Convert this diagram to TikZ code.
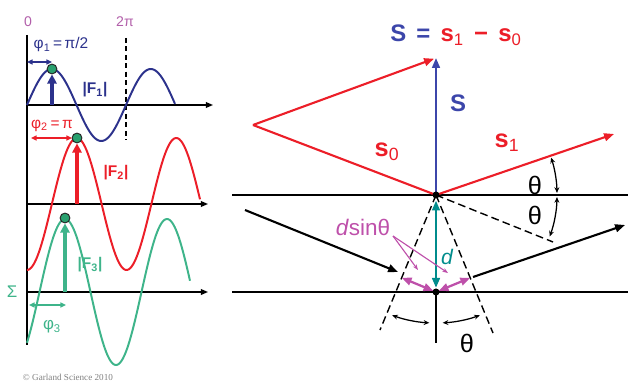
\documentclass[tikz,border=0pt]{standalone}
\usepackage{fontspec}
\setmainfont{Liberation Sans}
\newfontfamily\creditfont{Liberation Serif}
\usepackage{tikz}
\usetikzlibrary{arrows.meta, calc, positioning}

\definecolor{waveblue}{RGB}{44,50,140}
\definecolor{sblue}{RGB}{60,70,170}
\definecolor{wavered}{RGB}{236,30,40}
\definecolor{wavegreen}{RGB}{62,180,138}
\definecolor{peakgreen}{RGB}{40,160,110}
\definecolor{dteal}{RGB}{0,140,140}
\definecolor{dmagenta}{RGB}{190,80,170}
\definecolor{phaselbl}{RGB}{178,95,170}

\begin{document}
\begin{tikzpicture}[x=0.025cm,y=0.025cm,>={Triangle[length=7pt,width=5.5pt]},
    waveaxis/.style={line width=1pt,-{Triangle[length=5pt,width=4pt]}},
    wave/.style={line width=1.4pt},
    amp/.style={line width=2.2pt,-{Triangle[length=6.5pt,width=6.5pt]}},
    phasebar/.style={line width=1pt,{Triangle[length=4pt,width=3.5pt]}-{Triangle[length=4pt,width=3.5pt]}},
    peak/.style={circle,draw=black!85,fill=peakgreen,line width=0.7pt,inner sep=0pt,minimum size=7pt},
    lattice/.style={line width=0.9pt},
    vec/.style={line width=1.5pt,wavered},
    beam/.style={line width=1.5pt,->},
    guide/.style={line width=1pt,dash pattern=on 5.5pt off 3pt},
    atom/.style={circle,fill=black,inner sep=0pt,minimum size=5pt},
    angmark/.style={line width=0.9pt,{Stealth[length=4pt,width=3.5pt]}-{Stealth[length=4pt,width=3.5pt]}},
    pointer/.style={line width=0.8pt,dmagenta,-{Stealth[length=4pt,width=3pt]}},
    small/.style={font=\fontsize{11}{11}\selectfont},
    amplbl/.style={font=\bfseries\fontsize{11}{11}\selectfont},
    big/.style={font=\fontsize{18}{18}\selectfont}
]
\useasboundingbox (0,0) rectangle (628,382);

% ---------- left: structure factor waves ----------
\coordinate (ytop) at (27,347);
\coordinate (ybot) at (27,37);
\draw[line width=1pt] (ytop) -- (ybot); % vertical axis
\foreach \n/\y/\e in {1/277/213, 2/178/208, 3/90/208}{
    \coordinate (a\n) at (27,\y);
    \coordinate (e\n) at (\e,\y);
    \draw[waveaxis] (a\n) -- (e\n);
}
\node[phaselbl,font=\fontsize{10}{10}\selectfont] (zero) at (28,360) {0};
\node[phaselbl,font=\fontsize{10}{10}\selectfont] (twopi) at (125,360) {2π};
\coordinate (dtop) at (126,344);
\coordinate (dbot) at (126,242);
\draw[line width=0.9pt,dash pattern=on 3.5pt off 2.5pt] (dtop) -- (dbot); % one period

% red wave F2
\draw[wave,wavered] plot[domain=27:200,samples=120] (\x,{178-66*cos((\x-27)/99.5*360)});
\coordinate (f2) at (77,178);
\node[peak] (pk2) at (77,244) {};
\draw[amp,wavered] (f2) -- (pk2.south);
\coordinate (r2l) at (31,244);
\coordinate (r2r) at (72,244);
\draw[phasebar,wavered] (r2l) -- (r2r);
\node[small,wavered] (phi2) at (52,256) {φ\textsubscript{2}\,=\,π};
\node[amplbl,wavered] (F2) at (116,209) {|F\textsubscript{2}|};

% green wave F3 (sum)
\draw[wave,wavegreen] plot[domain=27:190,samples=120] (\x,{90+73*cos((\x-65)/102*360)});
\coordinate (f3) at (65,90);
\node[peak] (pk3) at (65,164) {};
\draw[amp,wavegreen] (f3) -- (pk3.south);
\coordinate (r3l) at (29,77);
\coordinate (r3r) at (66,77);
\draw[phasebar,wavegreen] (r3l) -- (r3r);
\node[wavegreen,font=\fontsize{12}{12}\selectfont] (phi3) at (52,55) {φ\textsubscript{3}};
\node[amplbl,wavegreen] (F3) at (90,117) {|F\textsubscript{3}|};
\node[wavegreen,font=\fontsize{12}{12}\selectfont] (sigma) at (12,90) {Σ};

% blue wave F1
\draw[wave,waveblue] plot[domain=27:175,samples=100] (\x,{277+36*sin((\x-27)/99*360)});
\coordinate (f1) at (52,277);
\node[peak] (pk1) at (52,313) {};
\draw[amp,waveblue] (f1) -- (pk1.south);
\coordinate (r1l) at (27,320);
\coordinate (r1r) at (52,320);
\draw[phasebar,waveblue] (r1l) -- (r1r);
\node[small,waveblue] (phi1) at (61,337) {φ\textsubscript{1}\,=\,π/2};
\node[amplbl,waveblue] (F1) at (95,292) {|F\textsubscript{1}|};

\node[gray,font=\creditfont\fontsize{6.5}{7}\selectfont,anchor=base west] (credit) at (18,2) {© Garland Science 2010};

% ---------- right: scattering vector and Bragg planes ----------
\coordinate (O) at (436,187);   % upper lattice point
\coordinate (P) at (436,90);    % lower lattice point
\coordinate (V) at (253,257);   % start of s0
\coordinate (T) at (436,324);   % tip of S
\coordinate (S1) at (614,248);  % tip of s1
\coordinate (L1a) at (232,187); \coordinate (L1b) at (628,187);
\coordinate (L2a) at (232,90);  \coordinate (L2b) at (628,90);
\draw[lattice] (L1a) -- (L1b);
\draw[lattice] (L2a) -- (L2b);

% dashed construction lines
\coordinate (Dr) at (553,140);
\coordinate (Dl) at (380,52);
\coordinate (Dd) at (493,49);
\draw[guide] (O) -- (Dr);
\draw[guide] (O) -- (Dl);
\draw[guide] (O) -- (Dd);
\coordinate (Fl) at ($(O)!(P)!(Dl)$);
\coordinate (Fr) at ($(O)!(P)!(Dd)$);
\coordinate (Pb) at (436,39);
\draw[line width=1pt] (P) -- (Pb);

% incident and scattered beams
\coordinate (In1) at (245,172); \coordinate (In2) at (398,110);
\coordinate (Out1) at (473,105); \coordinate (Out2) at (625,157);
\draw[beam] (In1) -- (In2);
\draw[beam] (Out1) -- (Out2);

% vectors
\draw[vec] (V) -- (O); % s0
\draw[vec,->,shorten >=1.5pt] (V) -- (T);
\draw[vec,->] (O) -- (S1); % s1
\draw[line width=1.5pt,sblue,->] (O) -- (T); % S

% path difference
\draw[line width=1.6pt,dteal,<->,shorten <=4pt,shorten >=3pt] (O) -- (P);
\draw[line width=1.6pt,dmagenta,<->,shorten <=2pt] (P) -- (Fl);
\draw[line width=1.6pt,dmagenta,<->,shorten <=2pt] (P) -- (Fr);
\coordinate (Q) at (393,146);
\coordinate (Q1) at (418,112);
\coordinate (Q2) at (448,109);
\draw[pointer] (Q) -- (Q1);
\draw[pointer] (Q) -- (Q2);

\node[atom] (Odot) at (O) {};
\node[atom] (Pdot) at (P) {};

% angles
\draw[angmark] ([shift={(1:121)}]O) arc[start angle=1,end angle=18,radius=121];
\draw[angmark] ([shift={(-1:121)}]O) arc[start angle=-1,end angle=-20,radius=121];
\draw[angmark] ([shift={(250:128)}]O) arc[start angle=250,end angle=267,radius=128];
\draw[angmark] ([shift={(273:128)}]O) arc[start angle=273,end angle=290,radius=128];

% labels
\node[font=\bfseries\fontsize{17}{17}\selectfont] (title) at (456,347)
    {\textcolor{sblue}{S\hspace{0.15em} =}\hspace{0.15em} \textcolor{wavered}{s\textsubscript{\mdseries 1}\hspace{0.15em} −\hspace{0.15em} s\textsubscript{\mdseries 0}}};
\node[sblue,font=\bfseries\fontsize{17}{17}\selectfont] (Slbl) at (458,279) {S};
\node[wavered,font=\bfseries\fontsize{18}{18}\selectfont] (s0lbl) at (387,230) {s\textsubscript{\mdseries 0}};
\node[wavered,font=\bfseries\fontsize{18}{18}\selectfont] (s1lbl) at (507,239) {s\textsubscript{\mdseries 1}};
\node[big] (th1) at (535,197) {θ};
\node[big] (th2) at (535,167) {θ};
\node[big] (th3) at (467,39) {θ};
\node[dmagenta,font=\fontsize{16}{16}\selectfont] (dsin) at (363,155) {\textit{d}sinθ};
\node[dteal,font=\itshape\fontsize{15}{15}\selectfont] (dlbl) at (447,125) {d};
\end{tikzpicture}
\end{document}
